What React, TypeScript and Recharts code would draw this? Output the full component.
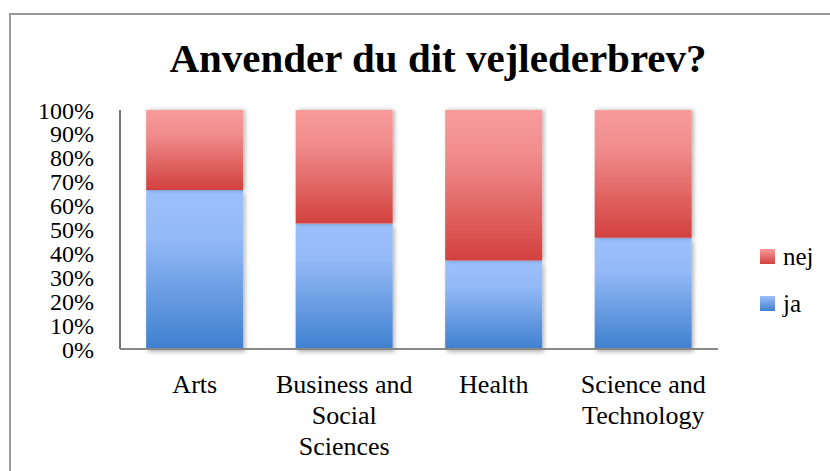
import React from "react";
import { BarChart, Bar, XAxis, YAxis, Legend, Rectangle, Text } from "recharts";

const categories = ["Arts", "Business and Social Sciences", "Health", "Science and Technology"];
const jaValues = [66.5, 52.5, 37, 46.5];
const nejValues = [33.5, 47.5, 63, 53.5];
const yTicks = [0, 0.1, 0.2, 0.3, 0.4, 0.5, 0.6, 0.7, 0.8, 0.9, 1];

const data = categories.map((name, i) => ({ name, ja: jaValues[i], nej: nejValues[i] }));

const FONT = "'Liberation Serif', 'DejaVu Serif', serif";

function CategoryTick(props: any) {
  const { x, y, payload } = props;
  return (
    <Text
      x={x}
      y={y + 18}
      width={148}
      textAnchor="middle"
      verticalAnchor="start"
      lineHeight={31}
      style={{ fontSize: "26px", fontFamily: FONT }}
      fill="#000"
    >
      {payload.value}
    </Text>
  );
}

function LegendBox() {
  const items = [
    { label: "nej", from: "#f99b9b", to: "#d2413e" },
    { label: "ja", from: "#9cc0fb", to: "#3f80cf" },
  ];
  return (
    <div style={{ fontFamily: FONT, fontSize: 25, color: "#000" }}>
      {items.map((it) => (
        <div key={it.label} style={{ display: "flex", alignItems: "center", height: 47 }}>
          <div
            style={{
              width: 15,
              height: 15,
              marginRight: 8,
              background: `linear-gradient(${it.from}, ${it.to})`,
            }}
          />
          <span>{it.label}</span>
        </div>
      ))}
    </div>
  );
}

export default function App() {
  return (
    <div style={{ position: "absolute", left: 0, top: 0, width: 830, height: 471, background: "#fff", overflow: "hidden" }}>
      {/* outer chart frame, cut off on right and bottom */}
      <div
        style={{
          position: "absolute",
          left: 9,
          top: 13,
          width: 840,
          height: 480,
          borderLeft: "2px solid #9a9a9a",
          borderTop: "2px solid #9a9a9a",
        }}
      />
      <div
        style={{
          position: "absolute",
          left: 0,
          top: 34,
          width: 876,
          textAlign: "center",
          fontFamily: FONT,
          fontWeight: "bold",
          fontSize: 41,
          color: "#000",
        }}
      >
        Anvender du dit vejlederbrev?
      </div>
      <BarChart
        width={830}
        height={471}
        data={data}
        stackOffset="expand"
        barCategoryGap="17.5%"
        margin={{ top: 110, right: 112, bottom: 0, left: 0 }}
        style={{ position: "absolute", left: 0, top: 0 }}
      >
        <defs>
          <linearGradient id="gradNej" x1="0" y1="0" x2="0" y2="1">
            <stop offset="0%" stopColor="#f99b9b" />
            <stop offset="30%" stopColor="#f08c8c" />
            <stop offset="100%" stopColor="#d2413e" />
          </linearGradient>
          <linearGradient id="gradJa" x1="0" y1="0" x2="0" y2="1">
            <stop offset="0%" stopColor="#9cc0fb" />
            <stop offset="30%" stopColor="#93b9f6" />
            <stop offset="100%" stopColor="#3f80cf" />
          </linearGradient>
          <filter id="shadowJa" x="-10%" y="-10%" width="130%" height="130%">
            <feDropShadow dx="2" dy="3" stdDeviation="2" floodColor="#000" floodOpacity="0.3" />
          </filter>
          <filter id="shadowNej" x="-10%" y="-10%" width="130%" height="130%">
            <feDropShadow dx="2" dy="0" stdDeviation="2" floodColor="#000" floodOpacity="0.3" />
          </filter>
        </defs>
        <XAxis
          dataKey="name"
          interval={0}
          tickLine={false}
          axisLine={{ stroke: "#888", strokeWidth: 2 }}
          tick={<CategoryTick />}
          height={122}
        />
        <XAxis xAxisId="top" orientation="top" dataKey="name" tick={false} tickLine={false} height={0} axisLine={{ stroke: "#222", strokeWidth: 2 }} />
        <YAxis
          ticks={yTicks}
          domain={[0, 1]}
          interval={0}
          width={120}
          tickLine={false}
          tickSize={0}
          tickMargin={26}
          axisLine={{ stroke: "#777", strokeWidth: 2 }}
          tickFormatter={(v: number) => `${Math.round(v * 100)}%`}
          tick={{ fontSize: 24, fontFamily: FONT, fill: "#000" }}
        />
        <YAxis yAxisId="right" orientation="right" tick={false} tickLine={false} width={0} axisLine={{ stroke: "#111", strokeWidth: 2 }} />
        <Legend
          layout="vertical"
          align="center"
          verticalAlign="middle"
          wrapperStyle={{ left: 760, top: 233, width: 70 }}
          content={() => <LegendBox />}
        />
        <Bar
          dataKey="ja"
          stackId="a"
          fill="url(#gradJa)"
          isAnimationActive={false}
          shape={(p: any) => <Rectangle {...p} fill="url(#gradJa)" filter="url(#shadowJa)" />}
        />
        <Bar
          dataKey="nej"
          stackId="a"
          fill="url(#gradNej)"
          isAnimationActive={false}
          shape={(p: any) => <Rectangle {...p} fill="url(#gradNej)" filter="url(#shadowNej)" />}
        />
      </BarChart>
    </div>
  );
}
